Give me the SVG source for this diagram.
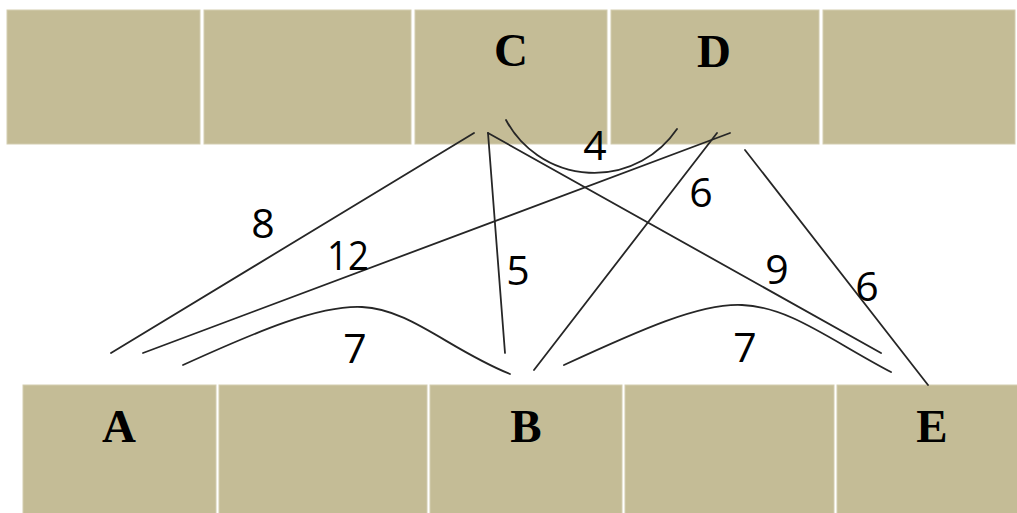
<svg xmlns="http://www.w3.org/2000/svg" width="1017" height="513" viewBox="0 0 1017 513">
<style>
.cell{fill:#c4bc96;stroke:#d3cdb0;stroke-width:1}
.lbl{font-family:"Liberation Serif","Times New Roman",serif;font-weight:bold;font-size:47px;fill:#000;text-anchor:middle}
.w{font-family:"Open Sans","Liberation Sans",sans-serif;font-size:41px;fill:#000;text-anchor:middle}
.e{fill:none;stroke:#262626;stroke-width:1.8;stroke-linecap:round}
</style>
<rect width="1017" height="513" fill="#fff"/>
<g id="top-row">
<g id="cell-t1"><rect class="cell" x="7" y="10" width="193" height="134"/></g>
<g id="cell-t2"><rect class="cell" x="204" y="10" width="207" height="134"/></g>
<g id="node-C"><rect class="cell" x="415" y="10" width="192" height="134"/><text class="lbl" x="511" y="66">C</text></g>
<g id="node-D"><rect class="cell" x="611" y="10" width="208" height="134"/><text class="lbl" x="714" y="67">D</text></g>
<g id="cell-t5"><rect class="cell" x="823" y="10" width="192" height="134"/></g>
</g>
<g id="bottom-row">
<g id="node-A"><rect class="cell" x="23" y="385" width="193" height="130"/><text class="lbl" x="119" y="442">A</text></g>
<g id="cell-b2"><rect class="cell" x="219" y="385" width="208" height="130"/></g>
<g id="node-B"><rect class="cell" x="430" y="385" width="192" height="130"/><text class="lbl" x="526" y="442">B</text></g>
<g id="cell-b4"><rect class="cell" x="625" y="385" width="209" height="130"/></g>
<g id="node-E"><rect class="cell" x="837" y="385" width="182" height="130"/><text class="lbl" x="932" y="442">E</text></g>
</g>
<g id="connectors">
<path class="e" d="M474,133 L111,353"/>
<path class="e" d="M730,133 L143,353"/>
<path class="e" d="M488,133 L505,353"/>
<path class="e" d="M488,133 L881,353"/>
<path class="e" d="M717,133 L534,370"/>
<path class="e" d="M745,150 L928,385"/>
<path class="e" d="M506,120 A100,100 0 0 0 677,129"/>
<path class="e" d="M183,365 C260,330 320,305 362,307 C410,309 450,350 510,374"/>
<path class="e" d="M564,365 C640,330 700,303 742,305 C790,307 830,340 891,372"/>
</g>
<g id="weights">
<text class="w" x="595" y="160">4</text>
<text class="w" x="701" y="207">6</text>
<text class="w" x="263" y="238">8</text>
<text class="w" x="348" y="270" textLength="42" lengthAdjust="spacingAndGlyphs">12</text>
<text class="w" x="518" y="285">5</text>
<text class="w" x="355" y="363">7</text>
<text class="w" x="777" y="284">9</text>
<text class="w" x="867" y="301">6</text>
<text class="w" x="745" y="362">7</text>
</g>
</svg>
